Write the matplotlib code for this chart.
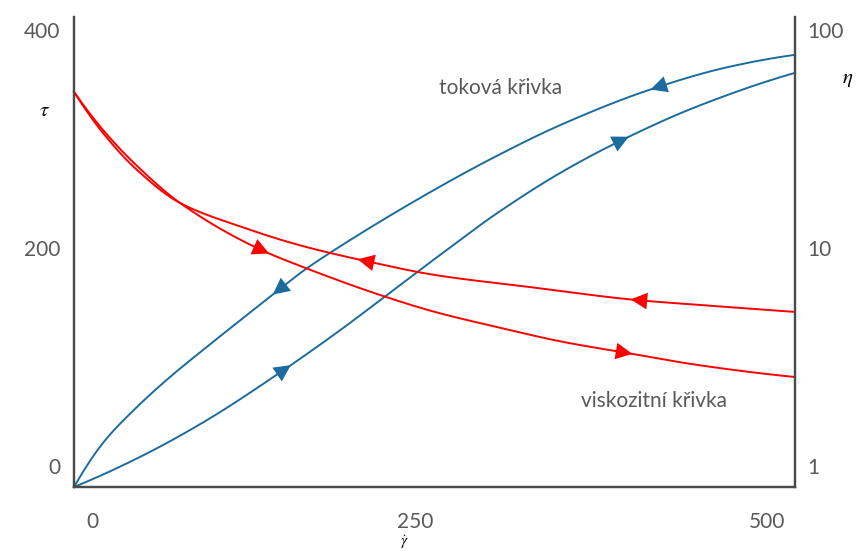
import numpy as np
import matplotlib
matplotlib.use('Agg')
import matplotlib.pyplot as plt

plt.rcParams['font.family'] = ['Lato', 'DejaVu Sans']
plt.rcParams['mathtext.fontset'] = 'stix'

# smyková rychlost (x), napětí tau (levá osa), viskozita eta (pravá osa, log)
gamma_down = [0, 20.1, 43.7, 66.6, 89.5, 113.0, 140.8, 158.8, 179.6, 246.9, 293.3, 339.1, 399.5, 454.9, 500]
tau_down = [0, 40.4, 73.4, 100.9, 125.7, 150.5, 179.5, 198.0, 216.5, 270.3, 303.7, 333.0, 364.4, 385.5, 396.3]

gamma_up = [0, 43.7, 89.5, 144.9, 182.4, 217.1, 250.3, 293.3, 339.1, 380.7, 432.0, 500]
tau_up = [0, 26.2, 59.2, 106.8, 141.7, 176.1, 209.3, 251.0, 289.5, 318.6, 348.9, 379.8]

gamma_eta_up = [0, 20.1, 43.7, 73.5, 126.9, 158.8, 212.2, 250.3, 293.3, 339.1, 383.5, 432.0, 500]
eta_up = [52.0, 34.8, 23.8, 16.1, 10.0, 8.18, 6.09, 5.09, 4.34, 3.71, 3.30, 2.91, 2.56]

gamma_eta_down = [0, 20.1, 43.7, 73.5, 113.0, 158.8, 205.3, 250.3, 316.2, 390.4, 454.9, 500]
eta_down = [52.0, 33.7, 22.8, 16.1, 12.7, 10.2, 8.63, 7.52, 6.62, 5.77, 5.36, 5.09]

tau_labels = ['0', '200', '400']
eta_ticks = [1, 10, 100]
gamma_labels = ['0', '250', '500']

blue = '#1b6c9e'
red = '#ff0000'
grey = '#595959'

fig = plt.figure(figsize=(8.57, 5.51), dpi=100)
W, H = 857, 551
ax = fig.add_axes([74 / W, 1 - 487 / H, (795 - 74) / W, (487 - 17) / H])
ax2 = ax.twinx()

ax.set_xlim(0, 500)
ax.set_ylim(0, 431)
ax2.set_yscale('log')
ax2.set_ylim(10 ** (-21 / 218), 10 ** (2 + 13 / 218))


def pchip(xs, ys, t):
    # monotonni kubicka interpolace (Fritsch-Carlson)
    x = np.asarray(xs, float)
    y = np.asarray(ys, float)
    h = np.diff(x)
    d = np.diff(y) / h
    m = np.zeros_like(y)
    for k in range(1, len(x) - 1):
        if d[k - 1] * d[k] > 0:
            w1 = 2 * h[k] + h[k - 1]
            w2 = h[k] + 2 * h[k - 1]
            m[k] = (w1 + w2) / (w1 / d[k - 1] + w2 / d[k])
    m[0] = ((2 * h[0] + h[1]) * d[0] - h[0] * d[1]) / (h[0] + h[1])
    if np.sign(m[0]) != np.sign(d[0]):
        m[0] = 0
    m[-1] = ((2 * h[-1] + h[-2]) * d[-1] - h[-1] * d[-2]) / (h[-1] + h[-2])
    if np.sign(m[-1]) != np.sign(d[-1]):
        m[-1] = 0
    i = np.clip(np.searchsorted(x, t) - 1, 0, len(x) - 2)
    s = (t - x[i]) / h[i]
    h00 = 2 * s**3 - 3 * s**2 + 1
    h10 = s**3 - 2 * s**2 + s
    h01 = -2 * s**3 + 3 * s**2
    h11 = s**3 - s**2
    return h00 * y[i] + h10 * h[i] * m[i] + h01 * y[i + 1] + h11 * h[i] * m[i + 1]


def smooth(xs, ys, logy=False):
    t = np.linspace(xs[0], xs[-1], 400)
    if logy:
        return t, 10 ** pchip(xs, np.log10(ys), t)
    return t, pchip(xs, ys, t)


def arrow(a, xs, ys, xpos, direction, color, logy=False):
    t, y = smooth(xs, ys, logy)
    i = np.searchsorted(t, xpos)
    j = i + 5 * direction
    a.annotate('', xy=(t[j], y[j]), xytext=(t[i], y[i]),
               arrowprops=dict(arrowstyle='-|>', color=color, lw=0,
                               mutation_scale=30, shrinkA=0, shrinkB=0))


for xs, ys in [(gamma_down, tau_down), (gamma_up, tau_up)]:
    t, y = smooth(xs, ys)
    ax.plot(t, y, color=blue, lw=1.4, clip_on=False)
ax.plot([500, 500], [tau_up[-1], tau_down[-1]], color=blue, lw=1.4, clip_on=False)

for xs, ys in [(gamma_eta_up, eta_up), (gamma_eta_down, eta_down)]:
    t, y = smooth(xs, ys, logy=True)
    ax2.plot(t, y, color=red, lw=1.4, clip_on=False)
ax2.plot([500, 500], [eta_up[-1], eta_down[-1]], color=red, lw=1.4, clip_on=False)

arrow(ax, gamma_down, tau_down, 143, -1, blue)
arrow(ax, gamma_down, tau_down, 405, -1, blue)
arrow(ax, gamma_up, tau_up, 143, 1, blue)
arrow(ax, gamma_up, tau_up, 378, 1, blue)
arrow(ax2, gamma_eta_up, eta_up, 128, 1, red, logy=True)
arrow(ax2, gamma_eta_up, eta_up, 380, 1, red, logy=True)
arrow(ax2, gamma_eta_down, eta_down, 203, -1, red, logy=True)
arrow(ax2, gamma_eta_down, eta_down, 391, -1, red, logy=True)

# osy a popisky
for a in (ax, ax2):
    a.spines['top'].set_visible(False)
    for s in ('left', 'right', 'bottom'):
        a.spines[s].set_color('#4a4a4a')
        a.spines[s].set_linewidth(1.6)
    a.tick_params(length=0, labelsize=15, labelcolor=grey)

ax.set_xticks([12.5, 236.5, 480.5], gamma_labels)
ax.set_yticks([19.3, 219.3, 419.3], tau_labels)
ax2.set_yticks(eta_ticks, ['1', '10', '100'])
ax2.minorticks_off()
ax.tick_params(axis='x', pad=18)
ax.tick_params(axis='y', pad=10)
ax2.tick_params(axis='y', pad=9)

fig.text(44 / W, 1 - 110 / H, r'$\tau$', fontsize=15, ha='center', va='center')
fig.text(848 / W, 1 - 79 / H, r'$\eta$', fontsize=15, ha='center', va='center')
fig.text(404 / W, 1 - 542 / H, r'$\dot{\gamma}$', fontsize=11, ha='center', va='center')

fig.text(439 / W, 1 - 88 / H, 'toková křivka', fontsize=15, color=grey, va='center')
fig.text(581 / W, 1 - 401 / H, 'viskozitní křivka', fontsize=15, color=grey, va='center')

fig.savefig('out.png', dpi=100)
